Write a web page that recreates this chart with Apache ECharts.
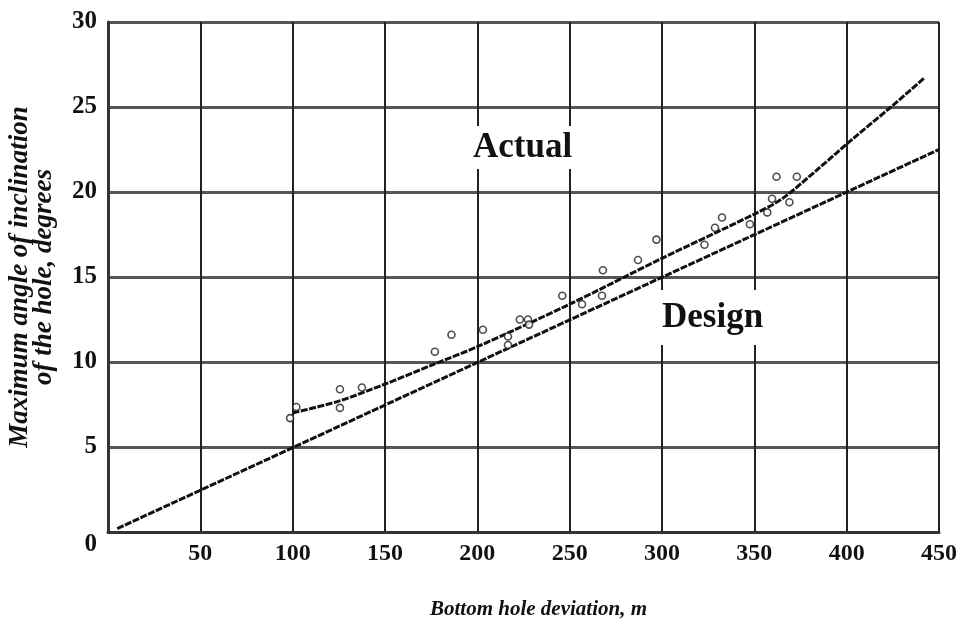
<!DOCTYPE html>
<html>
<head>
<meta charset="utf-8">
<script src="https://cdn.jsdelivr.net/npm/echarts@6/dist/echarts.min.js"></script>
<style>
html,body{margin:0;padding:0;background:#fff;}
#chart{width:972px;height:637px;}
</style>
</head>
<body>
<div id="chart"></div>
<script>
// ---- data ----
var xTicks = [0, 50, 100, 150, 200, 250, 300, 350, 400, 450];
var yTicks = [0, 5, 10, 15, 20, 25, 30];
var xTitle = 'Bottom hole deviation, m';
var yTitle = 'Maximum angle of inclination\nof the hole, degrees';

var designX = [5, 450];
var designY = [0.2, 22.5];

var actualX = [100, 125, 150, 175, 200, 250, 300, 350, 365, 385, 403, 424, 442];
var actualY = [7.0, 7.7, 8.7, 9.8, 10.9, 13.4, 16.1, 18.7, 19.6, 21.4, 23.1, 25.0, 26.7];

var pointsX = [98.6, 102, 125.6, 125.6, 137.5, 177, 186, 203, 216.6, 216.6, 223, 227.4, 228, 246, 256.7, 267.5, 268, 287, 297, 323, 328.7, 332.5, 347.6, 357, 359.6, 362, 369, 373];
var pointsY = [6.7, 7.35, 8.4, 7.3, 8.5, 10.6, 11.6, 11.9, 11.5, 11.0, 12.5, 12.5, 12.2, 13.9, 13.4, 13.9, 15.4, 16.0, 17.2, 16.9, 17.9, 18.5, 18.1, 18.8, 19.6, 20.9, 19.4, 20.9];

var labelActual = 'Actual';
var labelDesign = 'Design';

function zip(a, b) { return a.map(function (v, i) { return [v, b[i]]; }); }

var chart = echarts.init(document.getElementById('chart'));
var serif = '"Liberation Serif", "Times New Roman", serif';

chart.setOption({
  backgroundColor: '#ffffff',
  animation: false,
  grid: { left: 108, right: 33, top: 22, bottom: 105, containLabel: false, outerBoundsMode: 'none' },
  xAxis: {
    type: 'value',
    min: xTicks[0], max: xTicks[xTicks.length - 1], interval: 50,
    name: xTitle,
    nameLocation: 'middle',
    nameGap: 67,
    nameTextStyle: { fontFamily: serif, fontWeight: 'bold', fontStyle: 'italic', fontSize: 21, color: '#111', padding: [0, 0, 0, 30] },
    axisLine: { show: true, lineStyle: { color: '#333', width: 3 } },
    axisTick: { show: false },
    splitLine: { show: true, lineStyle: { color: '#222', width: 2 } },
    axisLabel: {
      margin: 10,
      fontFamily: serif, fontWeight: 'bold', fontSize: 24, color: '#111',
      formatter: function (v) { return v === 0 ? '' : String(v); }
    }
  },
  yAxis: {
    type: 'value',
    min: yTicks[0], max: yTicks[yTicks.length - 1], interval: 5,
    name: yTitle,
    nameLocation: 'middle',
    nameRotate: 90,
    nameGap: 52,
    nameTextStyle: { fontFamily: serif, fontWeight: 'bold', fontStyle: 'italic', fontSize: 27, lineHeight: 24, color: '#111' },
    axisLine: { show: true, lineStyle: { color: '#333', width: 3 } },
    axisTick: { show: false },
    splitLine: { show: true, lineStyle: { color: '#555', width: 3 } },
    axisLabel: {
      margin: 11,
      fontFamily: serif, fontWeight: 'bold', fontSize: 25, color: '#111',
      formatter: function (v) { return v === 0 ? '{z|0}' : String(v); },
      rich: { z: { fontFamily: serif, fontWeight: 'bold', fontSize: 25, color: '#111', padding: [26, 0, 0, 0] } }
    }
  },
  series: [
    {
      name: 'Design', type: 'line', data: zip(designX, designY),
      showSymbol: false, symbol: 'none',
      lineStyle: { color: '#111', width: 3, type: [7, 1.5] }, z: 3
    },
    {
      name: 'Actual', type: 'line', data: zip(actualX, actualY),
      showSymbol: false, symbol: 'none', smooth: 0.3,
      lineStyle: { color: '#111', width: 3, type: [7, 1.5] }, z: 3
    },
    {
      name: 'Measured', type: 'scatter', data: zip(pointsX, pointsY),
      symbol: 'circle', symbolSize: 7,
      itemStyle: { color: '#fff', borderColor: '#222', borderWidth: 1.6 }, z: 4
    }
  ],
  graphic: [
    {
      type: 'text', left: 463, top: 126, z: 10,
      style: { text: labelActual, font: 'bold 35px ' + serif, fill: '#111', backgroundColor: '#fff', padding: [4, 10, 4, 10] }
    },
    {
      type: 'text', left: 652, top: 290, z: 10,
      style: { text: labelDesign, font: 'bold 35px ' + serif, fill: '#111', backgroundColor: '#fff', padding: [10, 12, 10, 10] }
    }
  ]
});
</script>
</body>
</html>
